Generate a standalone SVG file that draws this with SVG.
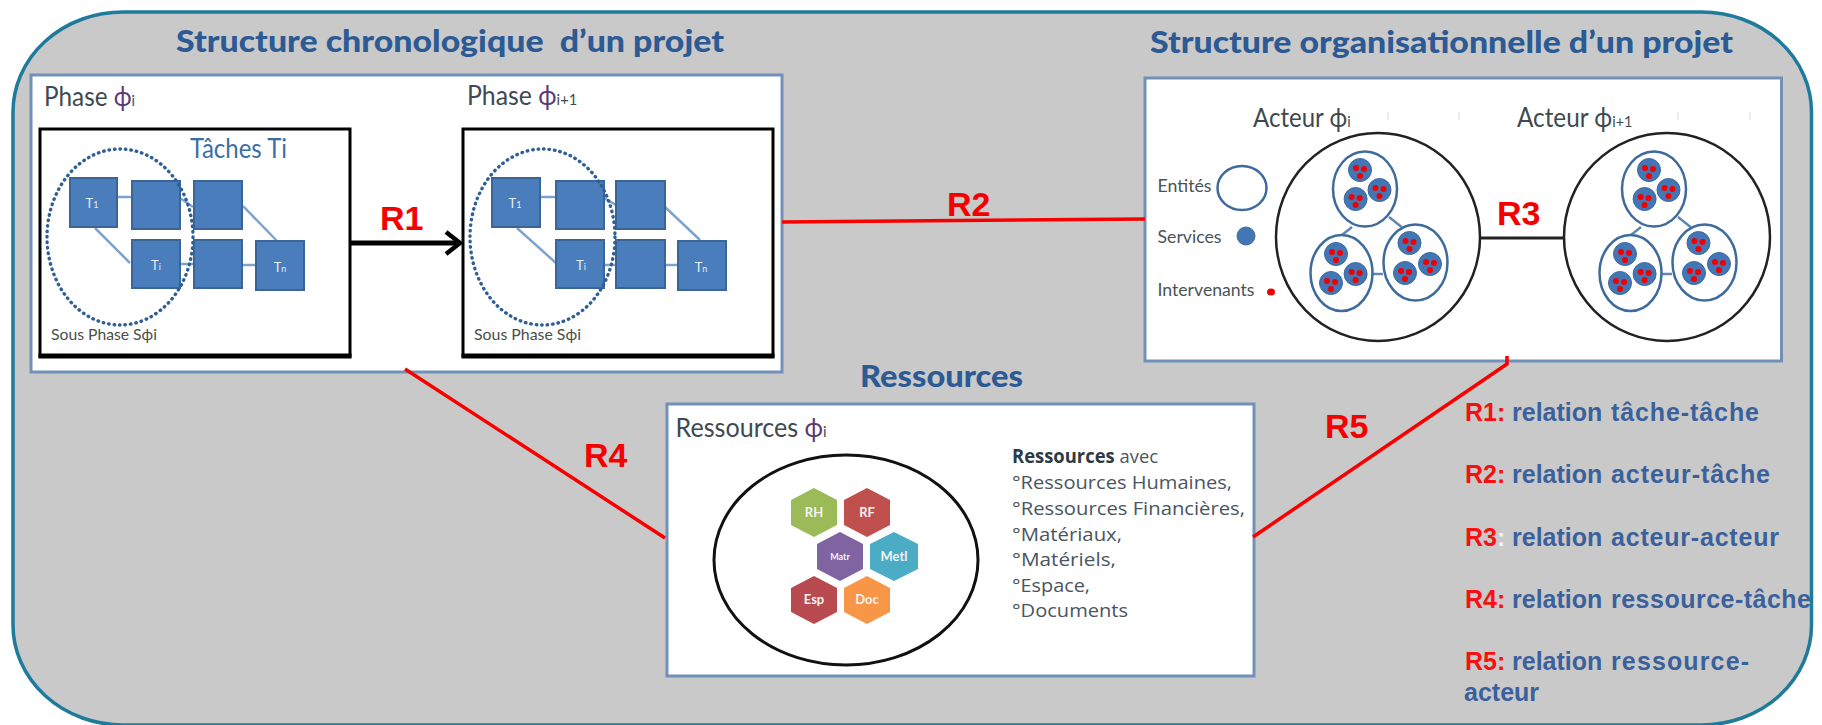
<svg xmlns="http://www.w3.org/2000/svg" xmlns:xlink="http://www.w3.org/1999/xlink" width="1822" height="725" viewBox="0 0 1822 725">
<style>
.title{font:900 30px Lato,"Liberation Sans",sans-serif;fill:#2c5a94}
.lab{font:27px Lato,"Liberation Sans",sans-serif;fill:#3f4a4f}
.phi{fill:#5b3a78}
.sm{font-size:16px}
.sous{font:16px Lato,"Liberation Sans",sans-serif;fill:#4a4f48}
.leg{font:18px Lato,"Liberation Sans",sans-serif;fill:#4a5358}
.rel{font:bold 34px "Liberation Sans",Arial,sans-serif;fill:#f50000}
.key{font:bold 25px "Liberation Sans",Arial,sans-serif;fill:#3a619c}
.keyr{fill:#f81010}
.res{font:19px "Open Sans","Liberation Sans",sans-serif;fill:#4a5560}
.panel{fill:#fff;stroke:#7391b8;stroke-width:3}
.bk{fill:#fff;stroke:#000;stroke-width:3}
.sq{fill:#4a7dbb;stroke:#3b6596;stroke-width:2}
.sl{stroke:#7ea3cf;stroke-width:2.5;fill:none}
.dot{fill:none;stroke:#2f5f94;stroke-width:3.4;stroke-dasharray:0.5 5;stroke-linecap:round}
.st{font:13px Lato,"Liberation Sans",sans-serif;fill:#e8eef6;text-anchor:middle}
.red{stroke:#f80000;stroke-width:3.5;fill:none}
.ent{fill:#fff;stroke:#3f6b9c;stroke-width:2.5}
.big{fill:#fff;stroke:#222;stroke-width:2.5}
.hx{font:bold 13px Lato,"Liberation Sans",sans-serif;fill:#f2f2f2;text-anchor:middle}
</style>
<defs>
<g id="svc"><circle r="11.5" fill="#4376b4" stroke="#3f6b9c"/><circle cx="-4" cy="-2" r="3" fill="#f00000"/><circle cx="4" cy="-1" r="3" fill="#f00000"/><circle cx="0" cy="6" r="3" fill="#f00000"/></g>
<g id="cluster">
<path class="sl" d="M1352 227L1342 235M1389 217L1401.6 227M1372.6 274H1383" style="stroke:#5f87b5"/>
<ellipse class="ent" cx="1365" cy="189" rx="32" ry="37.5"/>
<ellipse class="ent" cx="1341.5" cy="273" rx="31" ry="38"/>
<ellipse class="ent" cx="1415.5" cy="262.5" rx="32" ry="38"/>
<use xlink:href="#svc" href="#svc" x="1360" y="170"/><use xlink:href="#svc" href="#svc" x="1379.5" y="190"/><use xlink:href="#svc" href="#svc" x="1355.6" y="199"/>
<use xlink:href="#svc" href="#svc" x="1336" y="254"/><use xlink:href="#svc" href="#svc" x="1355.6" y="274"/><use xlink:href="#svc" href="#svc" x="1331" y="283"/>
<use xlink:href="#svc" href="#svc" x="1409.5" y="243"/><use xlink:href="#svc" href="#svc" x="1430" y="264"/><use xlink:href="#svc" href="#svc" x="1405" y="273"/>
</g>
</defs>
<rect width="1822" height="725" fill="#fff"/>
<rect id="frame" x="13" y="12" width="1798.5" height="713" rx="110" ry="100" fill="#c9c9c9" stroke="#1f7b9c" stroke-width="3.5"/>
<text class="title" x="176" y="52" textLength="548" lengthAdjust="spacingAndGlyphs" xml:space="preserve">Structure chronologique  d’un projet</text>
<text class="title" x="1150" y="53" textLength="583" lengthAdjust="spacingAndGlyphs">Structure organisationnelle d’un projet</text>
<text class="title" x="860" y="387" textLength="163" lengthAdjust="spacingAndGlyphs">Ressources</text>

<g id="panel-chrono">
<rect class="panel" x="31" y="75" width="751" height="297"/>
<text class="lab" transform="translate(44 106) scale(.9 1)">Phase <tspan class="phi">ϕ</tspan><tspan class="sm">i</tspan></text>
<text class="lab" transform="translate(467 105) scale(.92 1)">Phase <tspan class="phi">ϕ</tspan><tspan class="sm">i+1</tspan></text>
</g>
<g id="phase-i">
<rect class="bk" x="40" y="129" width="310" height="227"/>
<path d="M38.5 356H351.5" stroke="#000" stroke-width="5" fill="none"/>
<text class="lab" x="190" y="158" style="fill:#3a6ea5" textLength="97" lengthAdjust="spacingAndGlyphs">Tâches Ti</text>
<path class="sl" d="M117 197H132M95 228L130 263M180 198L193 207M243 206L277 241M180 264H194M242 265H256"/>
<rect class="sq" x="70" y="178" width="47" height="49"/><text class="st" x="92" y="208">T<tspan font-size="9">1</tspan></text>
<rect class="sq" x="132" y="181" width="48" height="48"/>
<rect class="sq" x="194" y="181" width="48" height="48"/>
<rect class="sq" x="132" y="240" width="48" height="48"/><text class="st" x="156" y="270">T<tspan font-size="9">i</tspan></text>
<rect class="sq" x="194" y="240" width="48" height="48"/>
<rect class="sq" x="256" y="241" width="48" height="49"/><text class="st" x="280" y="272">T<tspan font-size="9">n</tspan></text>
<ellipse class="dot" cx="120" cy="237" rx="73" ry="88"/>
<text class="sous" x="51" y="340" textLength="106" lengthAdjust="spacingAndGlyphs">Sous Phase Sϕi</text>
</g>
<g id="phase-i1">
<rect class="bk" x="463" y="129" width="310" height="227"/>
<path d="M461.5 356H774.5" stroke="#000" stroke-width="5" fill="none"/>
<path class="sl" d="M540 197H556M517 228L556 263M604 198L616 205M665 207L700 240M604 265H616M665 265H678"/>
<rect class="sq" x="492" y="178" width="48" height="49"/><text class="st" x="515" y="208">T<tspan font-size="9">1</tspan></text>
<rect class="sq" x="556" y="181" width="48" height="48"/>
<rect class="sq" x="616" y="181" width="49" height="48"/>
<rect class="sq" x="556" y="240" width="48" height="48"/><text class="st" x="581" y="270">T<tspan font-size="9">i</tspan></text>
<rect class="sq" x="616" y="240" width="49" height="48"/>
<rect class="sq" x="678" y="241" width="48" height="49"/><text class="st" x="701" y="272">T<tspan font-size="9">n</tspan></text>
<ellipse class="dot" cx="542.5" cy="237" rx="72.5" ry="88"/>
<text class="sous" x="474" y="340" textLength="107" lengthAdjust="spacingAndGlyphs">Sous Phase Sϕi</text>
</g>

<g id="panel-org">
<rect class="panel" x="1145" y="78" width="636.5" height="283"/>
<text class="lab" transform="translate(1253 127) scale(.89 1)">Acteur <tspan style="fill:#3f4a4f">ϕ</tspan><tspan class="sm">i</tspan></text>
<text class="lab" transform="translate(1517 127) scale(.9 1)">Acteur <tspan style="fill:#3f4a4f">ϕ</tspan><tspan class="sm">i+1</tspan></text>
<path d="M1388 112V120M1459 112V120M1678 112V120M1750 112V120" stroke="#e8ecf1" stroke-width="2"/>
</g>
<g id="legend">
<text class="leg" x="1157.5" y="192" textLength="54" lengthAdjust="spacingAndGlyphs">Entités</text>
<ellipse class="ent" cx="1242" cy="188" rx="24.5" ry="22"/>
<text class="leg" x="1157.5" y="243" textLength="64" lengthAdjust="spacingAndGlyphs">Services</text>
<circle cx="1246" cy="236" r="9" fill="#4376b4" stroke="#3f6b9c"/>
<text class="leg" x="1157.5" y="296" textLength="97" lengthAdjust="spacingAndGlyphs">Intervenants</text>
<ellipse cx="1271" cy="292" rx="4" ry="3.5" fill="#f00000"/>
</g>
<g id="acteur-i">
<ellipse class="big" cx="1378" cy="237" rx="102" ry="104"/>
<use xlink:href="#cluster" href="#cluster"/>
</g>
<g id="acteur-i1">
<ellipse class="big" cx="1667" cy="237" rx="103" ry="104"/>
<use xlink:href="#cluster" href="#cluster" x="289"/>
</g>

<g id="panel-res">
<rect class="panel" x="667" y="404" width="587" height="272"/>
<text class="lab" transform="translate(675.5 437) scale(.93 1)">Ressources <tspan class="phi">ϕ</tspan><tspan class="sm">i</tspan></text>
<ellipse cx="846" cy="560" rx="132" ry="105" fill="#fff" stroke="#111" stroke-width="3"/>
<text class="res" transform="translate(1012 463) scale(.97 1)"><tspan font-weight="bold" fill="#2e3a44">Ressources</tspan> avec</text>
<text class="res" x="1012" y="489" textLength="220" lengthAdjust="spacingAndGlyphs">°Ressources Humaines,</text>
<text class="res" x="1012" y="515" textLength="233" lengthAdjust="spacingAndGlyphs">°Ressources Financières,</text>
<text class="res" x="1012" y="541" textLength="110" lengthAdjust="spacingAndGlyphs">°Matériaux,</text>
<text class="res" x="1012" y="566" textLength="104" lengthAdjust="spacingAndGlyphs">°Matériels,</text>
<text class="res" x="1012" y="592" textLength="78" lengthAdjust="spacingAndGlyphs">°Espace,</text>
<text class="res" x="1012" y="617" textLength="116" lengthAdjust="spacingAndGlyphs">°Documents</text>
</g>
<g id="hex-rh"><polygon points="814,488 837,500 837,525 814,537 791,525 791,500" fill="#9bbb59"/><text class="hx" x="814" y="517">RH</text></g>
<g id="hex-rf"><polygon points="867,488 890,500 890,525 867,537 844,525 844,500" fill="#c0504d"/><text class="hx" x="867" y="517">RF</text></g>
<g id="hex-mat"><polygon points="840,532 863,544 863,569 840,581 817,569 817,544" fill="#8064a2"/><text class="hx" x="840" y="560" style="font-size:9px">Matr</text></g>
<g id="hex-met"><polygon points="894,532 918,544 918,569 894,581 870,569 870,544" fill="#4bacc6"/><text class="hx" x="894" y="561">Metl</text></g>
<g id="hex-esp"><polygon points="814,576 837,588 837,612 814,624 791,612 791,588" fill="#b94a4f"/><text class="hx" x="814" y="604">Esp</text></g>
<g id="hex-doc"><polygon points="867,576 890,588 890,612 867,624 844,612 844,588" fill="#f79646"/><text class="hx" x="867" y="604">Doc</text></g>

<g id="connectors">
<path d="M350 243H456" stroke="#000" stroke-width="5" fill="none"/>
<path d="M446 232L460 243L446 254" stroke="#000" stroke-width="4.5" fill="none"/>
<path class="red" d="M782 222L1145 219"/>
<path d="M1480 238H1564" stroke="#222" stroke-width="3" fill="none"/>
<path class="red" d="M405 369L665 538"/>
<path class="red" d="M1507 356V364L1253 537"/>
</g>
<g id="labels">
<text class="rel" x="380" y="230">R1</text>
<text class="rel" x="947" y="216">R2</text>
<text class="rel" x="1497" y="225">R3</text>
<text class="rel" x="584" y="467">R4</text>
<text class="rel" x="1325" y="438">R5</text>
</g>
<g id="key">
<text class="key keyr" x="1465" y="421">R1:</text><text class="key" x="1512" y="421">relation</text><text class="key" x="1611" y="421" textLength="148">tâche-tâche</text>
<text class="key keyr" x="1465" y="483">R2:</text><text class="key" x="1512" y="483">relation</text><text class="key" x="1611" y="483" textLength="159">acteur-tâche</text>
<text class="key keyr" x="1465" y="546">R3<tspan style="fill:#eef2f6">:</tspan></text><text class="key" x="1512" y="546">relation</text><text class="key" x="1611" y="546" textLength="168">acteur-acteur</text>
<text class="key keyr" x="1465" y="608">R4:</text><text class="key" x="1512" y="608">relation</text><text class="key" x="1611" y="608" textLength="200">ressource-tâche</text>
<text class="key keyr" x="1465" y="670">R5:</text><text class="key" x="1512" y="670">relation</text><text class="key" x="1611" y="670" textLength="138">ressource-</text>
<text class="key" x="1464" y="701">acteur</text>
</g>
</svg>
